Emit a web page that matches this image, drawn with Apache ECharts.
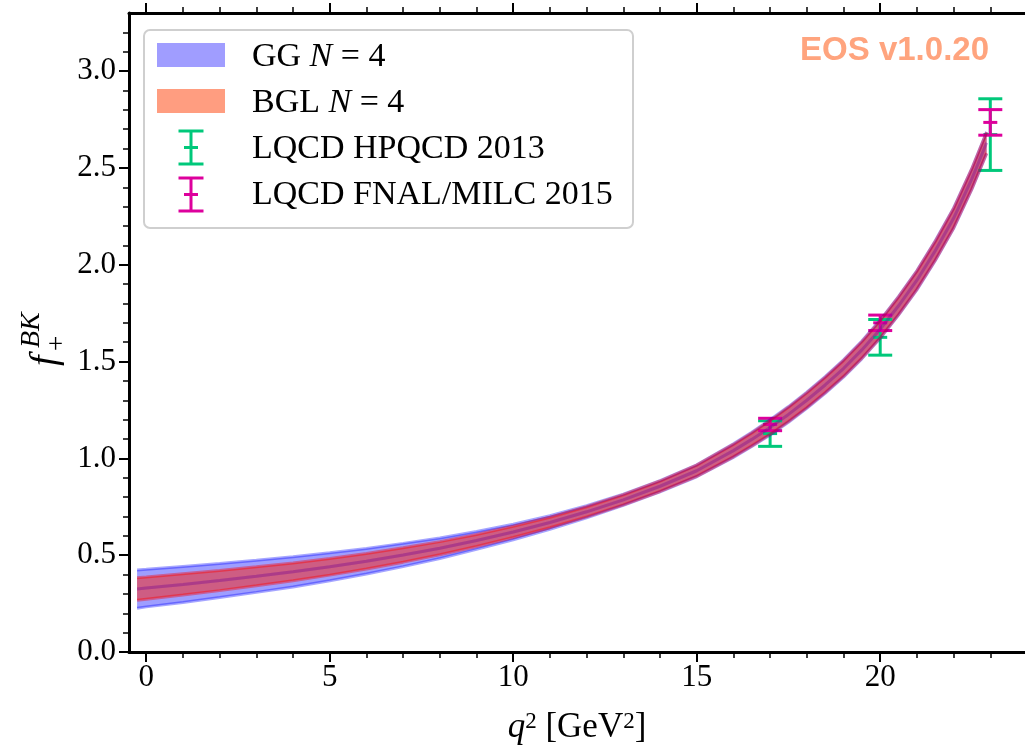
<!DOCTYPE html>
<html><head><meta charset="utf-8">
<script src="https://cdn.jsdelivr.net/npm/echarts@6.0.0/dist/echarts.min.js"></script>
<style>html,body{margin:0;padding:0;background:#fff}#c{width:1025px;height:751px}</style>
</head><body><div id="c"></div>
<script>
// ---- data ----
const q2 = [-0.25, 0, 1, 2, 3, 4, 5, 6, 7, 8, 9, 10, 11, 12, 13, 14, 15, 16, 16.5, 17, 17.5, 18, 18.5, 19, 19.5, 20, 20.5, 21, 21.5, 22, 22.5, 22.9];
const center = [0.325, 0.330, 0.349, 0.369, 0.391, 0.414, 0.440, 0.469, 0.501, 0.536, 0.576, 0.620, 0.669, 0.724, 0.786, 0.856, 0.936, 1.040, 1.098, 1.160, 1.227, 1.300, 1.379, 1.464, 1.560, 1.667, 1.788, 1.920, 2.072, 2.240, 2.445, 2.630];
const ggHalf = [0.099, 0.097, 0.093, 0.088, 0.083, 0.078, 0.072, 0.066, 0.060, 0.053, 0.046, 0.040, 0.035, 0.031, 0.029, 0.029, 0.031, 0.035, 0.037, 0.039, 0.0405, 0.042, 0.0435, 0.045, 0.046, 0.047, 0.0485, 0.050, 0.0515, 0.053, 0.0545, 0.056];
const bglHalf = [0.058, 0.057, 0.055, 0.052, 0.049, 0.046, 0.043, 0.040, 0.037, 0.034, 0.031, 0.029, 0.027, 0.026, 0.026, 0.027, 0.029, 0.032, 0.0335, 0.035, 0.0365, 0.038, 0.0395, 0.041, 0.0425, 0.044, 0.0455, 0.047, 0.0485, 0.050, 0.052, 0.054];

const hpqcdQ2 = [17, 20, 23];
const hpqcdVal = [1.128, 1.625, 2.672];
const hpqcdErr = [0.066, 0.092, 0.185];
const fnalQ2 = [17, 20, 23];
const fnalVal = [1.175, 1.700, 2.735];
const fnalErr = [0.032, 0.040, 0.066];

const xMajor = [0, 5, 10, 15, 20];
const xMinor = [1, 2, 3, 4, 6, 7, 8, 9, 11, 12, 13, 14, 16, 17, 18, 19, 21, 22, 23, 24];
const yMajor = [0, 0.5, 1.0, 1.5, 2.0, 2.5, 3.0];
const yMinor = [0.1,0.2,0.3,0.4,0.6,0.7,0.8,0.9,1.1,1.2,1.3,1.4,1.6,1.7,1.8,1.9,2.1,2.2,2.3,2.4,2.6,2.7,2.8,2.9,3.1,3.2];

const legendLabels = ['GG {i|N} = 4', 'BGL {i|N} = 4', 'LQCD HPQCD 2013', 'LQCD FNAL/MILC 2015'];
const watermark = 'EOS v1.0.20';

// ---- styling ----
const SERIF = '"Liberation Serif", "DejaVu Serif", serif';
const X_MIN = -0.47, X_MAX = 24.0, Y_MIN = 0, Y_MAX = 3.3;
const GREEN = '#00c87a', MAGENTA = '#dd009c';
const ZG = 100;
const LEG_FS = 34;

const chart = echarts.init(document.getElementById('c'), null, {renderer: 'canvas'});

function xAx(pos, values, len, w, line, labels) {
  return {
    type: 'value', position: pos, min: X_MIN, max: X_MAX, gridIndex: 0,
    splitLine: {show: false},
    axisLine: {show: line, onZero: false, lineStyle: {color: '#000', width: 3}},
    axisTick: {show: true, inside: false, length: len, customValues: values, lineStyle: {color: '#000', width: w}},
    axisLabel: labels ? {show: true, customValues: values, fontFamily: SERIF, fontSize: 31, color: '#000', margin: 10,
      formatter: v => String(Math.round(v))} : {show: false}
  };
}
function yAx(values, len, w, line, labels) {
  return {
    type: 'value', position: 'left', min: Y_MIN, max: Y_MAX, gridIndex: 0,
    splitLine: {show: false},
    axisLine: {show: line, onZero: false, lineStyle: {color: '#000', width: 3}},
    axisTick: {show: true, inside: false, length: len, customValues: values, lineStyle: {color: '#000', width: w}},
    axisLabel: labels ? {show: true, customValues: values, fontFamily: SERIF, fontSize: 31, color: '#000', margin: 13,
      formatter: v => v.toFixed(1)} : {show: false}
  };
}

function bandSeries(half, fill) {
  return {
    type: 'custom', xAxisIndex: 0, yAxisIndex: 0, silent: true,
    data: [[q2[0], center[0]]],
    renderItem(params, api) {
      const up = q2.map((x, i) => api.coord([x, center[i] + half[i]]));
      const lo = q2.map((x, i) => api.coord([x, center[i] - half[i]])).reverse();
      return {type: 'polygon', shape: {points: up.concat(lo)}, style: {fill: fill}};
    }
  };
}
function lineSeries(vals, color, width) {
  return {type: 'line', xAxisIndex: 0, yAxisIndex: 0, silent: true, symbol: 'none',
    data: q2.map((x, i) => [x, vals[i]]), lineStyle: {color: color, width: width}};
}
function errSeries(xs, vals, errs, color) {
  return {
    type: 'custom', xAxisIndex: 0, yAxisIndex: 0, silent: true,
    data: xs.map((x, i) => [x, vals[i], errs[i]]), encode: {x: 0, y: 1},
    renderItem(params, api) {
      const x = api.value(0), v = api.value(1), e = api.value(2);
      const t = api.coord([x, v + e]), b = api.coord([x, v - e]), m = api.coord([x, v]);
      const st = {stroke: color, lineWidth: 3};
      return {type: 'group', children: [
        {type: 'line', shape: {x1: t[0], y1: t[1], x2: b[0], y2: b[1]}, style: st},
        {type: 'line', shape: {x1: t[0] - 12, y1: t[1], x2: t[0] + 12, y2: t[1]}, style: st},
        {type: 'line', shape: {x1: b[0] - 12, y1: b[1], x2: b[0] + 12, y2: b[1]}, style: st},
        {type: 'line', shape: {x1: m[0] - 7, y1: m[1], x2: m[0] + 7, y2: m[1]}, style: st}
      ]};
    }
  };
}

const ggLo = center.map((c, i) => c - ggHalf[i]), ggHi = center.map((c, i) => c + ggHalf[i]);
const bgLo = center.map((c, i) => c - bglHalf[i]), bgHi = center.map((c, i) => c + bglHalf[i]);

function errIcon(cx, top, bot, color) {
  const st = {stroke: color, lineWidth: 3};
  const mid = (top + bot) / 2;
  return [
    {type: 'line', z: ZG + 1, shape: {x1: cx, y1: top, x2: cx, y2: bot}, style: st},
    {type: 'line', z: ZG + 1, shape: {x1: cx - 12.5, y1: top, x2: cx + 12.5, y2: top}, style: st},
    {type: 'line', z: ZG + 1, shape: {x1: cx - 12.5, y1: bot, x2: cx + 12.5, y2: bot}, style: st},
    {type: 'line', z: ZG + 1, shape: {x1: cx - 7, y1: mid, x2: cx + 7, y2: mid}, style: st}
  ];
}
const legText = (txt, y) => ({type: 'text', z: ZG + 1, x: 252, y: y, style: {text: txt, fontFamily: SERIF, fontSize: LEG_FS, fill: '#000',
  textVerticalAlign: 'middle', verticalAlign: 'middle', rich: {i: {fontFamily: SERIF, fontSize: LEG_FS, fontStyle: 'italic'}}}});

chart.setOption({
  animation: false,
  backgroundColor: '#fff',
  grid: {left: 129, top: 13, right: -2, bottom: 99, containLabel: false, outerBoundsMode: 'none'},
  xAxis: [
    xAx('bottom', xMajor, 10, 2, true, true),
    xAx('bottom', xMinor, 6, 1.5, false, false),
    xAx('top', xMajor, 10, 2, true, false),
    xAx('top', xMinor, 6, 1.5, false, false)
  ],
  yAxis: [
    yAx(yMajor, 10, 2, true, true),
    yAx(yMinor, 6, 1.5, false, false)
  ],
  series: [
    bandSeries(ggHalf, 'rgba(0,0,255,0.38)'),
    lineSeries(ggLo, 'rgba(0,0,255,0.35)', 3),
    lineSeries(ggHi, 'rgba(0,0,255,0.35)', 3),
    lineSeries(center, 'rgba(0,0,255,0.22)', 3),
    bandSeries(bglHalf, 'rgba(245,40,30,0.55)'),
    lineSeries(bgLo, 'rgba(255,0,0,0.4)', 3),
    lineSeries(bgHi, 'rgba(255,0,0,0.4)', 3),
    lineSeries(center, 'rgba(230,0,40,0.18)', 3),
    errSeries(hpqcdQ2, hpqcdVal, hpqcdErr, GREEN),
    errSeries(fnalQ2, fnalVal, fnalErr, MAGENTA)
  ],
  graphic: [
    {type: 'rect', z: ZG, shape: {x: 144, y: 30, width: 489, height: 198, r: 6}, style: {fill: 'rgba(255,255,255,0.85)', stroke: '#cfcfcf', lineWidth: 2}},
    {type: 'rect', z: ZG + 1, shape: {x: 157, y: 43, width: 68, height: 24}, style: {fill: '#a09dff'}},
    {type: 'rect', z: ZG + 1, shape: {x: 157, y: 89, width: 68, height: 24}, style: {fill: '#ff9d80'}},
    ...errIcon(191, 131, 164, GREEN),
    ...errIcon(191, 178, 211, MAGENTA),
    legText(legendLabels[0], 57), legText(legendLabels[1], 103),
    legText(legendLabels[2], 149), legText(legendLabels[3], 195),
    {type: 'text', z: ZG + 1, x: 989, y: 51, style: {text: watermark, fontFamily: '"Liberation Sans", Arial, sans-serif', fontWeight: 'bold', fontSize: 33,
      fill: '#ffa47e', align: 'right', textAlign: 'right', verticalAlign: 'middle', textVerticalAlign: 'middle'}},
    // x axis title
    {type: 'text', z: ZG + 1, x: 577, y: 728, style: {
      text: '{q|q}{s|2} [GeV{s|2}]', fontFamily: SERIF, fontSize: 35, fill: '#000', align: 'center', textAlign: 'center', verticalAlign: 'middle', textVerticalAlign: 'middle',
      rich: {q: {fontFamily: SERIF, fontSize: 35, fontStyle: 'italic'}, s: {fontFamily: SERIF, fontSize: 23, verticalAlign: 'top', lineHeight: 35}}}},
    // y axis title (rotated)
    {type: 'group', x: 46, y: 366, rotation: Math.PI / 2, children: [
      {type: 'text', z: ZG + 1, x: 0, y: 0, style: {text: 'f', fontFamily: SERIF, fontStyle: 'italic', fontSize: 38, fill: '#000', verticalAlign: 'middle', textVerticalAlign: 'middle'}},
      {type: 'text', z: ZG + 1, x: 18, y: -14, style: {text: 'BK', fontFamily: SERIF, fontStyle: 'italic', fontSize: 28, fill: '#000', verticalAlign: 'middle', textVerticalAlign: 'middle'}},
      {type: 'text', z: ZG + 1, x: 15, y: 12, style: {text: '+', fontFamily: SERIF, fontSize: 27, fill: '#000', verticalAlign: 'middle', textVerticalAlign: 'middle'}}
    ]}
  ]
});
</script></body></html>
